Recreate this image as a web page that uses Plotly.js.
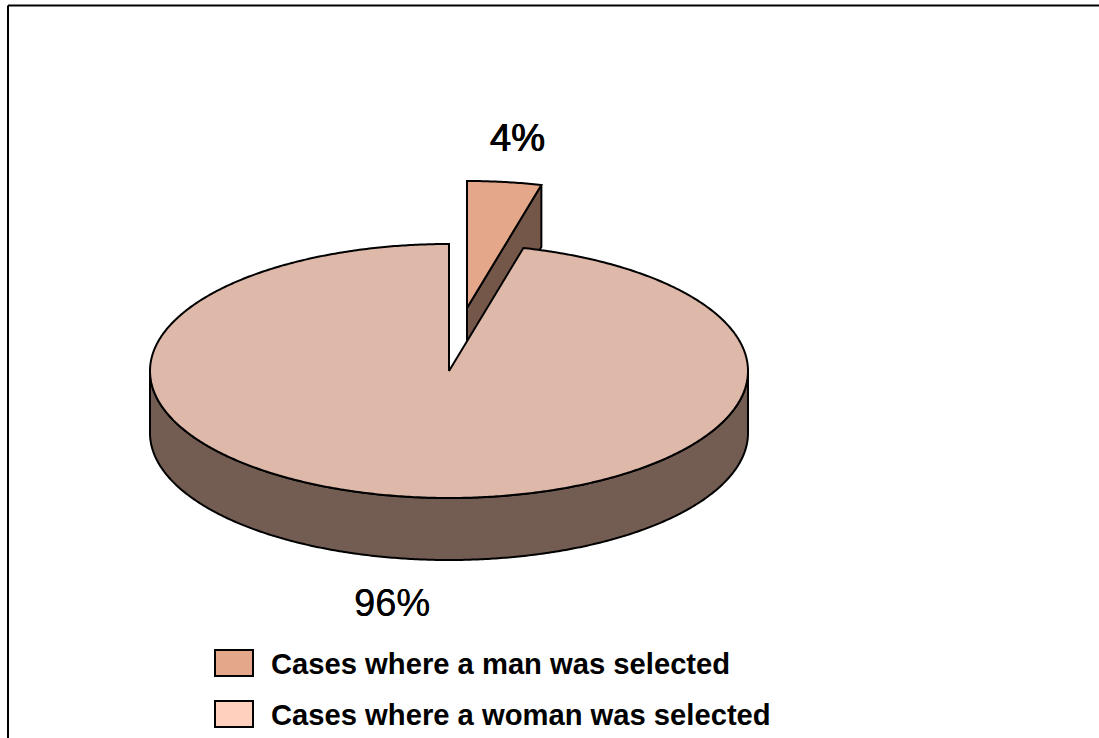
<!DOCTYPE html>
<html>
<head>
<meta charset="utf-8">
<script src="https://cdn.plot.ly/plotly-3.0.1.min.js"></script>
<style>html,body{margin:0;padding:0;background:#fff;overflow:hidden}#c{width:1099px;height:738px}</style>
</head>
<body>
<div id="c"></div>
<script>
const categories = ["Cases where a man was selected", "Cases where a woman was selected"];
const shareValues = [4, 96];
const topColors = ["#E5A78A", "#DEB8A9"];
const sideColors = ["#75574A", "#735C52"];
const legendColors = ["#E5A78A", "#FFD0BD"];

// Pie projection (drawing geometry, in axis units equal to pixels)
const cx = 449, cy = 371, rx = 299, ry = 127, depth = 62;
const explodeDx = 18, explodeDy = -63;

const rim = (deg, ox, oy) => {
  const a = deg * Math.PI / 180;
  return [ox + rx * Math.sin(a), oy - ry * Math.cos(a)];
};
const arc = (from, to, ox, oy) => {
  const n = Math.max(2, Math.ceil(Math.abs(to - from) / 0.5));
  const pts = [];
  for (let i = 0; i <= n; i++) pts.push(rim(from + (to - from) * i / n, ox, oy));
  return pts;
};
const poly = (pts, fill, name) => ({
  type: "scatter", mode: "lines", name,
  x: pts.map(p => p[0]), y: pts.map(p => p[1]),
  fill: "toself", fillcolor: fill,
  line: {color: "#000", width: 2, simplify: false},
  hoverinfo: "name", showlegend: false
});

const total = shareValues[0] + shareValues[1];
const sweep = 360 * shareValues[0] / total;

// Exploded slice
const ax = cx + explodeDx, ay = cy + explodeDy;
const rimEnd = rim(sweep, ax, ay);
const manSide = poly([[ax, ay], rimEnd, [rimEnd[0], rimEnd[1] + depth], [ax, ay + depth], [ax, ay]], sideColors[0], categories[0]);
const manTop = poly([[ax, ay], ...arc(0, sweep, ax, ay), [ax, ay]], topColors[0], categories[0]);

// Main slice
const frontTop = arc(90, 270, cx, cy);
const frontBottom = arc(270, 90, cx, cy + depth);
const womanSide = poly([...frontTop, ...frontBottom, frontTop[0]], sideColors[1], categories[1]);
const womanTop = poly([[cx, cy], ...arc(sweep, 360, cx, cy), [cx, cy]], topColors[1], categories[1]);

const legendRows = [663, 714];
const shapes = [
  {type: "line", xref: "x", yref: "y", x0: 8, x1: 1099, y0: 5.5, y1: 5.5, line: {color: "#000", width: 2}},
  {type: "line", xref: "x", yref: "y", x0: 8, x1: 8, y0: 5.5, y1: 738, line: {color: "#000", width: 2}}
];
const annotations = [
  {x: 517, y: 138, text: shareValues[0] + "%", size: 38, shadow: "0.5px 0 0 #000, -0.5px 0 0 #000"},
  {x: 392, y: 603, text: shareValues[1] + "%", size: 38, shadow: "0.2px 0 0 #000"}
].map(t => ({
  xref: "x", yref: "y", x: t.x, y: t.y, text: t.text, showarrow: false,
  xanchor: "center", yanchor: "middle",
  font: {family: "Liberation Sans, Arial", size: t.size, color: "#000", shadow: t.shadow}
}));
categories.forEach((name, i) => {
  const yc = legendRows[i];
  shapes.push({type: "rect", xref: "x", yref: "y", x0: 215, x1: 253, y0: yc - 13, y1: yc + 13,
    fillcolor: legendColors[i], line: {color: "#000", width: 2}});
  annotations.push({xref: "x", yref: "y", x: 269, y: yc + 1, text: "<b>" + name + "</b>", showarrow: false,
    xanchor: "left", yanchor: "middle", font: {family: "Liberation Sans, Arial", size: 29.2, color: "#000"}});
});

const hiddenAxis = {visible: false, fixedrange: true, showgrid: false, zeroline: false};
Plotly.newPlot("c", [manSide, manTop, womanSide, womanTop], {
  width: 1099, height: 738,
  margin: {l: 0, r: 0, t: 0, b: 0},
  paper_bgcolor: "#fff", plot_bgcolor: "#fff",
  xaxis: {...hiddenAxis, range: [0, 1099]},
  yaxis: {...hiddenAxis, range: [738, 0]},
  showlegend: false, shapes, annotations
}, {displayModeBar: false, staticPlot: true});
</script>
</body>
</html>
